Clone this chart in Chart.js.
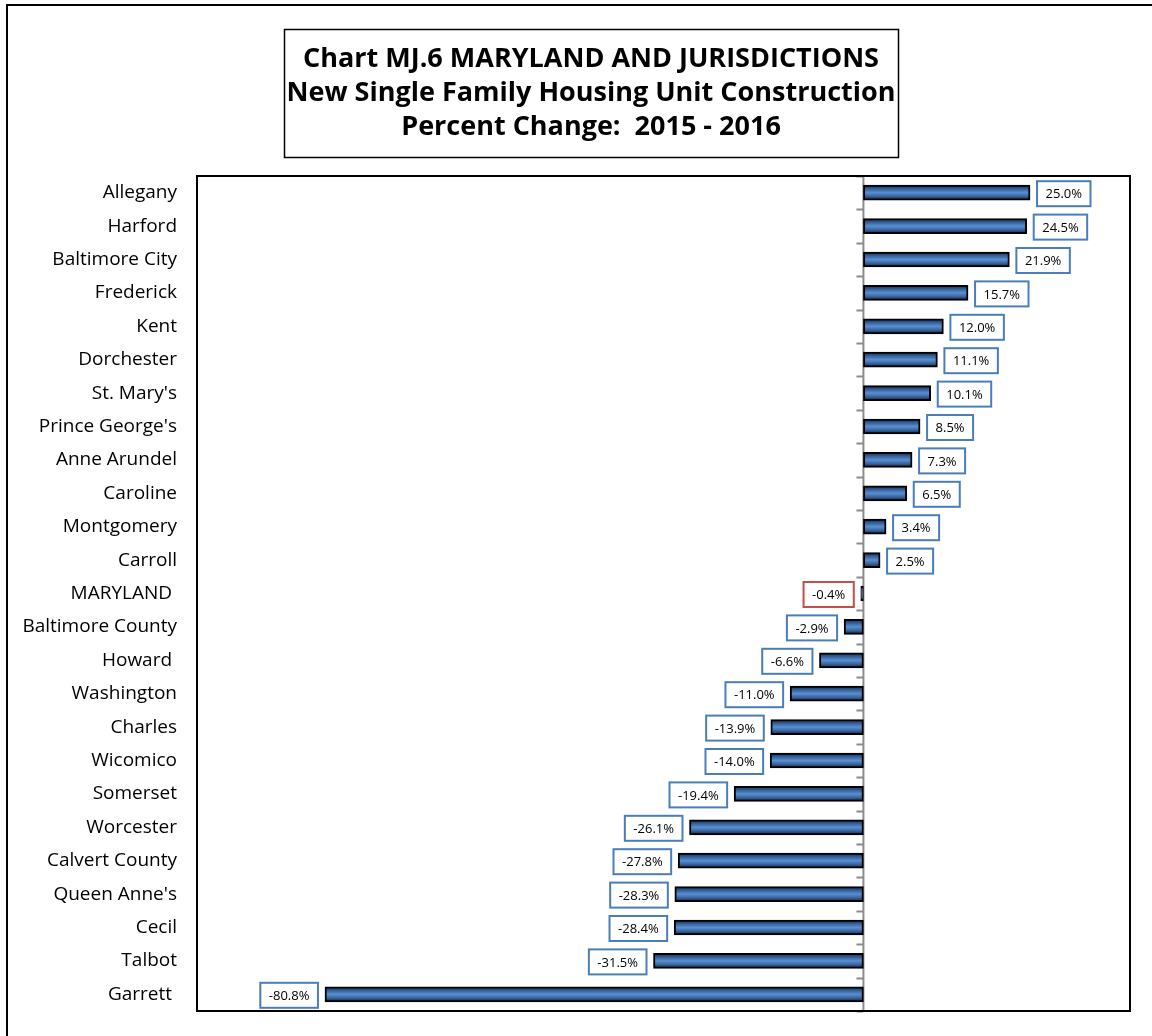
<!DOCTYPE html>
<html>
<head>
<meta charset="utf-8">
<script src="https://cdn.jsdelivr.net/npm/chart.js@4.4.1/dist/chart.umd.min.js"></script>
<style>
  html, body { margin: 0; padding: 0; background: #fff; overflow: hidden; }
  #wrap { width: 1152px; height: 1036px; }
</style>
</head>
<body>
<div id="wrap"><canvas id="bar-chart"></canvas></div>
<script>
// jurisdictions, top to bottom
const jurisdictions = ['Allegany', 'Harford', 'Baltimore City', 'Frederick', 'Kent', 'Dorchester',
    "St. Mary's", "Prince George's", 'Anne Arundel', 'Caroline', 'Montgomery', 'Carroll',
    'MARYLAND ', 'Baltimore County', 'Howard ', 'Washington', 'Charles', 'Wicomico', 'Somerset',
    'Worcester', 'Calvert County', "Queen Anne's", 'Cecil', 'Talbot', 'Garrett '];

// percent change 2015 - 2016
const pctChange = [25.0, 24.5, 21.9, 15.7, 12.0, 11.1, 10.1, 8.5, 7.3, 6.5, 3.4, 2.5,
    -0.4, -2.9, -6.6, -11.0, -13.9, -14.0, -19.4, -26.1, -27.8, -28.3, -28.4, -31.5, -80.8];

const titleLines = ['Chart MJ.6 MARYLAND AND JURISDICTIONS',
    'New Single Family Housing Unit Construction',
    'Percent Change:  2015 - 2016'];

const xMin = -100;
const xMax = 40;

function barFill(context) {
    const chart = context.chart;
    const yScale = chart.scales.y;
    if (!yScale) return '#3d6da8';
    const cy = yScale.getPixelForValue(context.dataIndex);
    if (!isFinite(cy)) return '#3d6da8';
    const g = chart.ctx.createLinearGradient(0, cy - 7, 0, cy + 7);
    g.addColorStop(0, '#17325a');
    g.addColorStop(0.3, '#3d6da8');
    g.addColorStop(0.5, '#5a8fd2');
    g.addColorStop(0.75, '#3a679f');
    g.addColorStop(1, '#152c4e');
    return g;
}

const framePlugin = {
    id: 'frame',
    beforeDatasetsDraw(chart) {
        const ctx = chart.ctx;
        const area = chart.chartArea;
        const x0 = chart.scales.x.getPixelForValue(0);
        ctx.save();
        // outer frame
        ctx.strokeStyle = '#000';
        ctx.lineWidth = 2;
        ctx.strokeRect(7, 5, 1170, 1060);
        // title box
        ctx.lineWidth = 1.5;
        ctx.strokeRect(284.5, 29.5, 614, 128);
        ctx.fillStyle = '#000';
        ctx.font = 'bold 27px "Open Sans"';
        ctx.textAlign = 'center';
        ctx.textBaseline = 'middle';
        titleLines.forEach((line, i) => ctx.fillText(line, 591, 59 + i * 34));
        // zero line with small ticks
        ctx.strokeStyle = '#8c8c8c';
        ctx.lineWidth = 2;
        ctx.beginPath();
        ctx.moveTo(x0, area.top);
        ctx.lineTo(x0, area.bottom);
        const step = (area.bottom - area.top) / jurisdictions.length;
        for (let i = 0; i <= jurisdictions.length; i++) {
            const y = Math.round(area.top + i * step) + 0.5;
            ctx.moveTo(x0 - 7, y);
            ctx.lineTo(x0, y);
        }
        ctx.stroke();
        ctx.restore();
    },
    afterDatasetsDraw(chart) {
        const ctx = chart.ctx;
        const area = chart.chartArea;
        ctx.save();
        // plot border
        ctx.strokeStyle = '#000';
        ctx.lineWidth = 2;
        ctx.strokeRect(area.left, area.top, area.right - area.left, area.bottom - area.top);
        // value labels in boxes
        ctx.font = '13px "Open Sans"';
        ctx.textBaseline = 'middle';
        ctx.textAlign = 'center';
        const meta = chart.getDatasetMeta(0);
        meta.data.forEach((bar, i) => {
            const v = pctChange[i];
            const text = v.toFixed(1) + '%';
            const w = ctx.measureText(text).width + 17;
            const h = 25;
            const bx = v >= 0 ? bar.x + 7 : bar.x - 7 - w;
            const by = bar.y - h / 2 + 1;
            ctx.fillStyle = '#fff';
            ctx.fillRect(bx, by, w, h);
            ctx.strokeStyle = jurisdictions[i].trim() === 'MARYLAND' ? '#c0504d' : '#4a7ebb';
            ctx.lineWidth = 2;
            ctx.strokeRect(bx, by, w, h);
            ctx.fillStyle = '#000';
            ctx.fillText(text, bx + w / 2, by + h / 2 + 1);
        });
        ctx.restore();
    }
};

new Chart(document.querySelector('#bar-chart').getContext('2d'), {
    type: 'bar',
    data: {
        labels: jurisdictions,
        datasets: [{
            data: pctChange,
            backgroundColor: barFill,
            borderColor: '#000',
            borderWidth: 2,
            borderSkipped: false,
            barThickness: 15
        }]
    },
    options: {
        indexAxis: 'y',
        responsive: true,
        maintainAspectRatio: false,
        animation: false,
        layout: { padding: { top: 176, left: 8, right: 22, bottom: 25 } },
        plugins: {
            legend: { display: false },
            title: { display: false },
            tooltip: { enabled: false }
        },
        scales: {
            x: {
                display: false,
                min: xMin,
                max: xMax
            },
            y: {
                grid: { display: false, drawTicks: false },
                border: { display: false },
                ticks: {
                    color: '#000',
                    padding: 20,
                    font: { family: '"Open Sans"', size: 19 }
                },
                afterFit(scale) {
                    // fixed label column, no extra padding from label heights
                    scale.width = 189;
                    scale.paddingTop = 0;
                    scale.paddingBottom = 0;
                }
            }
        }
    },
    plugins: [framePlugin]
});
</script>
</body>
</html>
